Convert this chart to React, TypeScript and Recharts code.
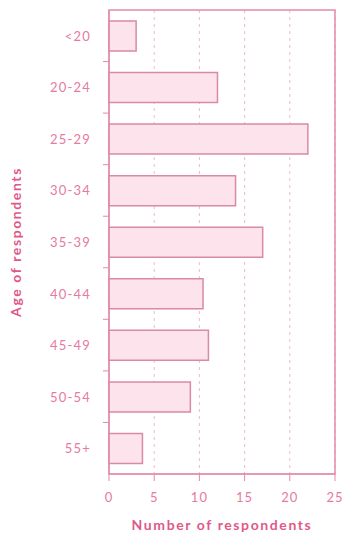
import React from 'react';
import { BarChart, Bar, XAxis, YAxis, CartesianGrid, ReferenceArea, Label } from 'recharts';

const ageGroups = ['<20', '20-24', '25-29', '30-34', '35-39', '40-44', '45-49', '50-54', '55+'];
const respondents = [3, 12, 22, 14, 17, 10.4, 11, 9, 3.7];
const xTicks = [0, 5, 10, 15, 20, 25];

const data = ageGroups.map((age, i) => ({ age, count: respondents[i] }));

const pink = '#e0588a';
const frame = '#e38aa8';
const labelPink = '#e67aa0';
const font = 'Lato, sans-serif';

const YTitle = ({ viewBox }: any) => (
    <text
        x={15}
        y={viewBox.y + viewBox.height / 2}
        transform={`rotate(-90 15 ${viewBox.y + viewBox.height / 2})`}
        textAnchor="middle"
        dominantBaseline="central"
        fill={pink}
        fontFamily={font}
        fontWeight={700}
        fontSize={14}
        letterSpacing={1.6}
    >
        Age of respondents
    </text>
);

// category label plus a short tick at the band boundary below it
const AgeTick = ({ x, y, payload, index }: any) => {
    const half = payload.offset || 0;
    return (
        <g>
            <text
                x={x}
                y={y}
                textAnchor="end"
                dominantBaseline="central"
                fill={labelPink}
                fontSize={13}
                fontFamily={font}
                letterSpacing={1.2}
            >
                {payload.value}
            </text>
            {index < ageGroups.length - 1 && (
                <line x1={x + 12} x2={x + 18} y1={y + half} y2={y + half} stroke={frame} />
            )}
        </g>
    );
};

const App = () => {
    return (
        <div style={{ position: 'absolute', left: 0, top: 0 }}>
            <BarChart
                width={344}
                height={540}
                data={data}
                layout="vertical"
                margin={{ top: 10, right: 9, left: 0, bottom: 0 }}
                barSize={30}
            >
                <CartesianGrid horizontal={false} strokeDasharray="3 4" stroke="#ebbccb" />
                <XAxis
                    type="number"
                    domain={[0, 25]}
                    ticks={xTicks}
                    height={66}
                    stroke={frame}
                    tickSize={7}
                    tickMargin={12}
                    tick={{ fill: labelPink, fontSize: 13, fontFamily: font, letterSpacing: 1 }}
                >
                    <Label
                        value="Number of respondents"
                        position="insideBottom"
                        offset={10}
                        fill={pink}
                        fontFamily={font}
                        fontWeight={700}
                        fontSize={14}
                        letterSpacing={1.6}
                    />
                </XAxis>
                <YAxis
                    type="category"
                    dataKey="age"
                    width={109}
                    stroke={frame}
                    tickLine={false}
                    tickSize={6}
                    tickMargin={12}
                    tick={<AgeTick />}
                >
                    <Label content={YTitle} />
                </YAxis>
                <ReferenceArea x1={0} x2={25} fill="none" stroke={frame} strokeWidth={1.5} ifOverflow="visible" />
                <Bar dataKey="count" fill="#fce3ec" stroke="#d98aa4" strokeWidth={1.5} isAnimationActive={false} />
            </BarChart>
        </div>
    );
};

export default App;
